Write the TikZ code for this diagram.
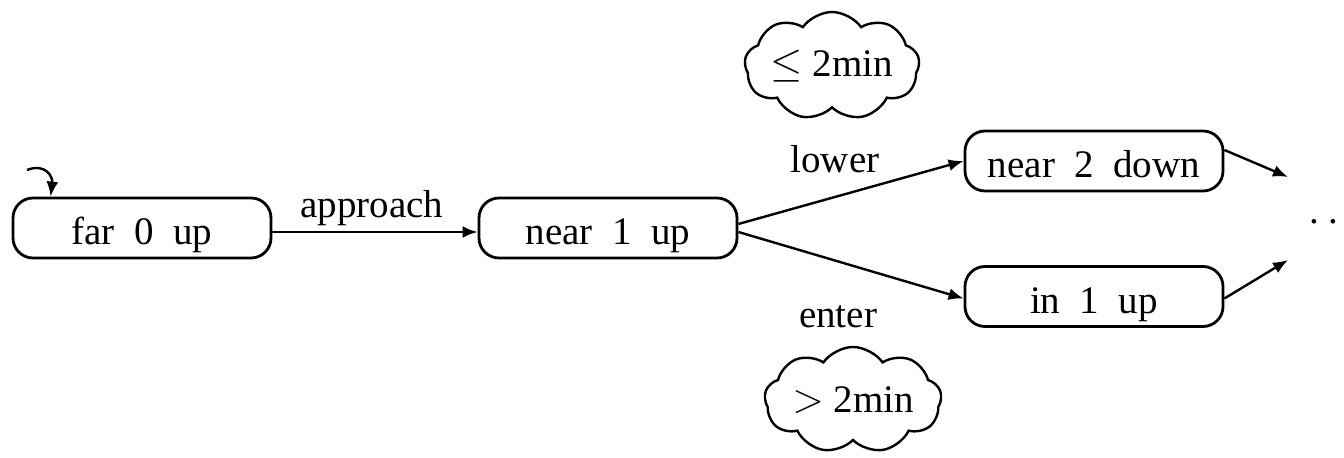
\documentclass[tikz,border=0pt]{standalone}
\usepackage{fontspec}
\setmainfont{Liberation Serif}
\usetikzlibrary{shapes.symbols,arrows.meta}
\begin{document}
\begin{tikzpicture}[x=0.5pt,y=-0.5pt,
  txt/.style={font=\fontsize{19.5}{22}\selectfont},
  state/.style={txt,draw,line width=1.4pt,rounded corners=10pt,minimum width=129pt,minimum height=30pt,inner sep=0pt,text height=17pt,text depth=0pt},
  lbl/.style={txt,inner sep=0pt,anchor=base},
  trans/.style={line width=1.2pt,-{Latex[length=7.5pt,width=6pt]}},
  note/.style={txt,draw,shape=cloud,cloud puffs=9,cloud puff arc=110,cloud ignores aspect,line width=1.2pt,inner sep=0pt}
]
\useasboundingbox (0,0) rectangle (1344,458);
\node[state] (far) at (142,228) {far\enspace 0\enspace up};
\node[state] (near1) at (608,228) {near\enspace 1\enspace up};
\node[state] (near2) at (1094,161) {near\enspace 2\enspace down};
\node[state] (in1) at (1094,296.5) {in\enspace 1\enspace up};

\coordinate (init) at (27,170);
\coordinate (out1) at (1288,177);
\coordinate (out2) at (1288,260);

\draw[trans] (init) .. controls (45,163) and (53,176) .. ([xshift=19.5pt]far.north west);
\draw[trans] ([yshift=-2pt]far.east) -- ([yshift=-2pt]near1.west);
\draw[trans] ([yshift=2pt]near1.east) -- (near2.west);
\draw[trans] ([yshift=-2pt]near1.east) -- ([yshift=-1pt]in1.west);
\draw[trans] ([yshift=5.5pt]near2.east) -- (out1);
\draw[trans] ([yshift=-1pt]in1.east) -- (out2);

\node[lbl] (lapp) at (372,218) {approach};
\node[lbl] (llow) at (835,173) {lower};
\node[lbl] (lent) at (838,328) {enter};

\node[note,minimum width=87.5pt,minimum height=54pt] (c1) at (832,66) {$\leq$ 2min};
\node[note,minimum width=88.5pt,minimum height=53pt] (c2) at (853,400) {$>$ 2min};

\node[lbl,anchor=base west] (dots) at (1309,224) {.\ .};
\end{tikzpicture}
\end{document}
